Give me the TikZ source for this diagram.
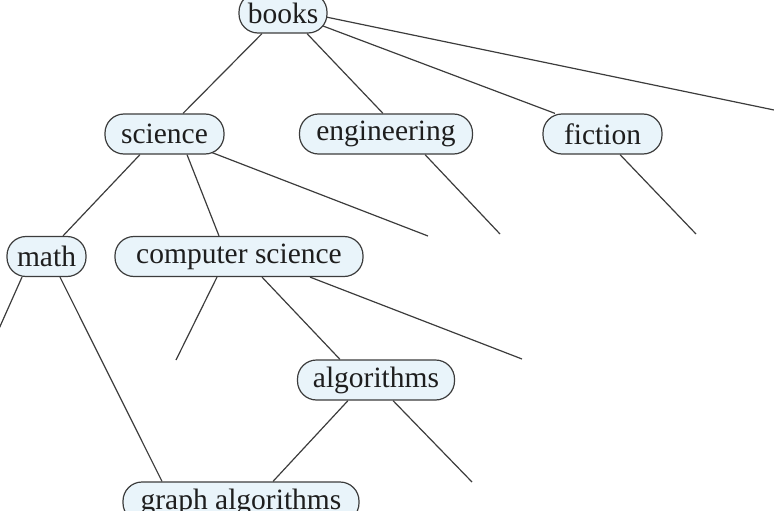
\documentclass[tikz,border=0pt]{standalone}
\usepackage{fontspec}
\setmainfont{Liberation Serif}
\usetikzlibrary{backgrounds}
\definecolor{nodefill}{HTML}{E9F4FA}
\definecolor{edgecol}{HTML}{3C3C3C}
\definecolor{txtcol}{HTML}{1E1E1E}
\begin{document}
\begin{tikzpicture}[x=1pt,y=-1pt,
  topic/.style={draw=edgecol, line width=1.2pt, fill=nodefill, rounded corners=19pt,
    minimum height=40pt, inner xsep=4pt, inner ysep=0pt, text=txtcol,
    font=\fontsize{29.5}{33}\selectfont},
  link/.style={draw=edgecol, line width=1.2pt}]
\clip (0,0) rectangle (774,511);
\node[topic, minimum width=88pt]  (books) at (283,13) {books};
\node[topic, minimum width=119pt] (science) at (164.5,134) {science};
\node[topic, minimum width=173pt] (engineering) at (386,134) {engineering};
\node[topic, minimum width=119pt] (fiction) at (602.5,134) {fiction};
\node[topic, minimum width=79pt]  (math) at (46.5,256.5) {math};
\node[topic, minimum width=248pt] (cs) at (239,256.5) {computer science};
\node[topic, minimum width=157pt] (algorithms) at (376,380) {algorithms};
\node[topic, minimum width=236pt] (graph) at (241,502) {graph algorithms};
\coordinate (farR) at (776,110.4);
\coordinate (sciFree) at (428,236);
\coordinate (engFree) at (500,234);
\coordinate (ficFree) at (696,234);
\coordinate (mathFree) at (-2,331);
\coordinate (csFreeL) at (176,360);
\coordinate (csFreeR) at (522,359);
\coordinate (algFree) at (472,482);
\begin{scope}[on background layer]
\draw[link] ([xshift=-21pt]books.south) -- ([xshift=18.5pt]science.north);
\draw[link] ([xshift=24pt]books.south) -- ([xshift=-3pt]engineering.north);
\draw[link] ([xshift=40pt,yshift=-13pt]books.center) -- ([xshift=-47.5pt]fiction.north);
\draw[link] ([xshift=43pt,yshift=-4pt]books.center) -- (farR);
\draw[link] ([xshift=-24.5pt]science.south) -- ([xshift=16.5pt]math.north);
\draw[link] ([xshift=22.5pt]science.south) -- ([xshift=-20pt]cs.north);
\draw[link] ([xshift=46pt,yshift=-18pt]science.center) -- (sciFree);
\draw[link] ([xshift=39pt]engineering.south) -- (engFree);
\draw[link] ([xshift=17.5pt]fiction.south) -- (ficFree);
\draw[link] ([xshift=-24.5pt]math.south) -- (mathFree);
\draw[link] ([xshift=13.5pt]math.south) -- ([xshift=-79pt]graph.north);
\draw[link] ([xshift=-22pt]cs.south) -- (csFreeL);
\draw[link] ([xshift=23pt]cs.south) -- ([xshift=-36pt]algorithms.north);
\draw[link] ([xshift=71pt]cs.south) -- (csFreeR);
\draw[link] ([xshift=-28pt]algorithms.south) -- ([xshift=32pt]graph.north);
\draw[link] ([xshift=17pt]algorithms.south) -- (algFree);
\end{scope}
\end{tikzpicture}
\end{document}
